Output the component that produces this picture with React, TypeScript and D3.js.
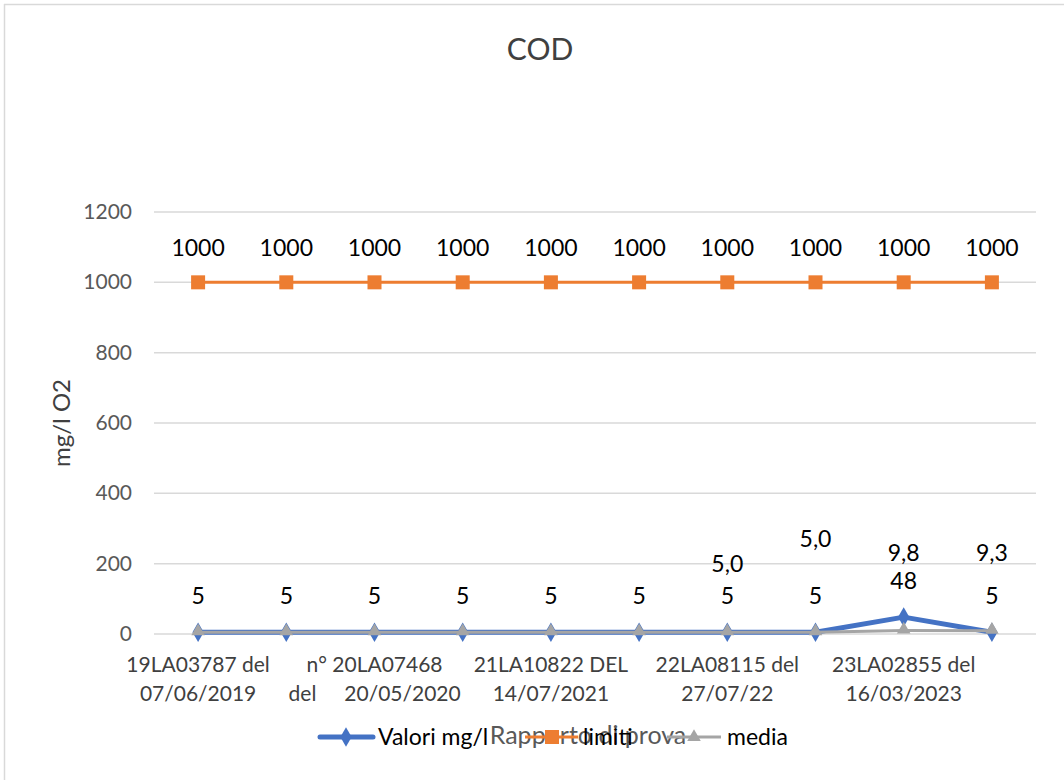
import React from "react";
import * as d3 from "d3";

const categories = [
  "19LA03787 del 07/06/2019",
  "c2",
  "n° 20LA07468 del 20/05/2020",
  "c4",
  "21LA10822 DEL 14/07/2021",
  "c6",
  "22LA08115 del 27/07/22",
  "c8",
  "23LA02855 del 16/03/2023",
  "c10",
];
const valori = [5, 5, 5, 5, 5, 5, 5, 5, 48, 5];
const limiti = [1000, 1000, 1000, 1000, 1000, 1000, 1000, 1000, 1000, 1000];
const media = [5, 5, 5, 5, 5, 5, 5.0, 5.0, 9.8, 9.3];
const mediaLabels = ["", "", "", "", "", "", "5,0", "5,0", "9,8", "9,3"];
const mediaLabelRaise = [0, 0, 0, 0, 0, 0, 60, 85, 70, 70];
const yTicks = [0, 200, 400, 600, 800, 1000, 1200];
// x-axis label lines shown at every other category
const xLabelLines: { idx: number; l1: string; l2: string[] }[] = [
  { idx: 0, l1: "19LA03787 del", l2: ["07/06/2019"] },
  { idx: 2, l1: "n° 20LA07468", l2: ["del", "20/05/2020"] },
  { idx: 4, l1: "21LA10822 DEL", l2: ["14/07/2021"] },
  { idx: 6, l1: "22LA08115 del", l2: ["27/07/22"] },
  { idx: 8, l1: "23LA02855 del", l2: ["16/03/2023"] },
];

const FONT = "Lato, 'Open Sans', sans-serif";
const BLUE = "#4472C4";
const ORANGE = "#ED7D31";
const GRAY = "#A5A5A5";
const LBL = 23;

export default function App() {
  const left = 154;
  const right = 1036;
  const x = d3
    .scaleBand<number>()
    .domain(d3.range(categories.length))
    .range([left, right]);
  const cx = (i: number) => (x(i) as number) + x.bandwidth() / 2;
  const y = d3.scaleLinear().domain([0, 1200]).range([634, 212]);

  const line = d3
    .line<number>()
    .x((_, i) => cx(i))
    .y((d) => y(d));

  const diamond = d3.symbol().type(d3.symbolDiamond).size(110)() as string;
  const triangle = d3.symbol().type(d3.symbolTriangle).size(80)() as string;

  return (
    <svg
      width={1064}
      height={780}
      style={{ position: "absolute", left: 0, top: 0, background: "#fff" }}
      fontFamily={FONT}
    >
      <rect x={0} y={0} width={1064} height={780} fill="#fff" />
      <line x1={4.5} y1={4} x2={4.5} y2={780} stroke="#D9D9D9" strokeWidth={1.5} />
      <line x1={4} y1={4.5} x2={1064} y2={4.5} stroke="#D9D9D9" strokeWidth={1.5} />

      <text x={540} y={60} textAnchor="middle" fontSize={30} fill="#404040">
        COD
      </text>

      {yTicks.map((t) => (
        <g key={t}>
          <line x1={left} x2={right} y1={y(t)} y2={y(t)} stroke="#D9D9D9" strokeWidth={1.5} />
          <text x={132} y={y(t) + 7} textAnchor="end" fontSize={21} fill="#595959">
            {t}
          </text>
        </g>
      ))}

      <text
        transform={`translate(70,${y(600)}) rotate(-90)`}
        textAnchor="middle"
        fontSize={24}
        fill="#404040"
      >
        mg/l O2
      </text>

      {xLabelLines.map((d) => (
        <g key={d.idx}>
          <text x={cx(d.idx)} y={672} textAnchor="middle" fontSize={21} fill="#404040">
            {d.l1}
          </text>
          {d.l2.length === 1 ? (
            <text x={cx(d.idx)} y={701} textAnchor="middle" fontSize={21} fill="#404040">
              {d.l2[0]}
            </text>
          ) : (
            <>
              <text x={cx(d.idx) - 72} y={701} textAnchor="middle" fontSize={21} fill="#404040">
                {d.l2[0]}
              </text>
              <text x={cx(d.idx) + 28} y={701} textAnchor="middle" fontSize={21} fill="#404040">
                {d.l2[1]}
              </text>
            </>
          )}
        </g>
      ))}

      {/* limiti */}
      <path d={line(limiti) as string} fill="none" stroke={ORANGE} strokeWidth={3} />
      {limiti.map((v, i) => (
        <rect key={i} x={cx(i) - 7} y={y(v) - 7} width={14} height={14} fill={ORANGE} />
      ))}
      {limiti.map((v, i) => (
        <text key={i} x={cx(i)} y={y(v) - 26} textAnchor="middle" fontSize={LBL} fill="#000">
          {v}
        </text>
      ))}

      {/* valori */}
      <path d={line(valori) as string} fill="none" stroke={BLUE} strokeWidth={5} strokeLinejoin="round" />
      {valori.map((v, i) => (
        <path key={i} d={diamond} transform={`translate(${cx(i)},${y(v)})`} fill={BLUE} />
      ))}

      {/* media */}
      <path d={line(media) as string} fill="none" stroke={GRAY} strokeWidth={3} strokeLinejoin="round" />
      {media.map((v, i) => (
        <path key={i} d={triangle} transform={`translate(${cx(i)},${y(v) - 1})`} fill={GRAY} />
      ))}

      {valori.map((v, i) => (
        <text key={i} x={cx(i)} y={y(v) - 28} textAnchor="middle" fontSize={LBL} fill="#000">
          {v}
        </text>
      ))}
      {mediaLabels.map((s, i) =>
        s ? (
          <text key={i} x={cx(i)} y={y(media[i]) - mediaLabelRaise[i]} textAnchor="middle" fontSize={LBL} fill="#000">
            {s}
          </text>
        ) : null
      )}

      {/* legend */}
      <g>
        <line x1={320} x2={373} y1={737} y2={737} stroke={BLUE} strokeWidth={5} strokeLinecap="round" />
        <path d={diamond} transform="translate(346,737)" fill={BLUE} />
        <text x={378} y={745} fontSize={LBL} fill="#000">Valori mg/l</text>

        <text x={588} y={744} textAnchor="middle" fontSize={25} fill="#595959">Rapporto di prova</text>

        <line x1={525} x2={578} y1={737} y2={737} stroke={ORANGE} strokeWidth={3} />
        <rect x={545} y={730} width={14} height={14} fill={ORANGE} />
        <text x={583} y={745} fontSize={LBL} fill="#000">limiti</text>

        <line x1={667} x2={721} y1={737} y2={737} stroke={GRAY} strokeWidth={3} />
        <path d={triangle} transform="translate(694,737)" fill={GRAY} />
        <text x={727} y={745} fontSize={LBL} fill="#000">media</text>
      </g>
    </svg>
  );
}
